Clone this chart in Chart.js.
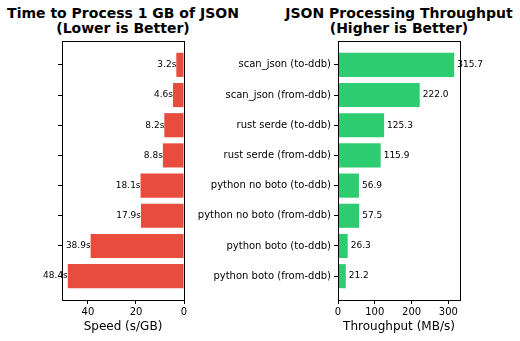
<!DOCTYPE html>
<html>
<head>
<meta charset="utf-8">
<script src="https://cdn.jsdelivr.net/npm/chart.js@4.4.1/dist/chart.umd.min.js"></script>
<style>
  html, body { margin: 0; padding: 0; background: #fff; overflow: hidden; }
  #wrap { position: relative; width: 520px; height: 341px; font-family: 'DejaVu Sans', sans-serif; }
  #wrap canvas { position: absolute; left: 0; top: 0; }
  .title { position: absolute; top: 6px; font-weight: bold; font-size: 14px; line-height: 15px; text-align: center; color: #000; white-space: nowrap; }
</style>
</head>
<body>
<div id="wrap">
  <div class="title" style="left:0;width:246px">Time to Process 1 GB of JSON<br>(Lower is Better)</div>
  <div class="title" style="left:279px;width:240px">JSON Processing Throughput<br>(Higher is Better)</div>
  <canvas id="timeChart" width="520" height="341"></canvas>
  <canvas id="rateChart" width="520" height="341"></canvas>
</div>
<script>
const methods = [
  'scan_json (to-ddb)', 'scan_json (from-ddb)',
  'rust serde (to-ddb)', 'rust serde (from-ddb)',
  'python no boto (to-ddb)', 'python no boto (from-ddb)',
  'python boto (to-ddb)', 'python boto (from-ddb)',
];
const seconds = [3.2, 4.6, 8.2, 8.8, 18.1, 17.9, 38.9, 48.4];
const throughput = [315.7, 222.0, 125.3, 115.9, 56.9, 57.5, 26.3, 21.2];
const timeTicks = [0, 20, 40];
const rateTicks = [0, 100, 200, 300];

Chart.defaults.font.family = "'DejaVu Sans', sans-serif";
Chart.defaults.color = '#000';

// box round the plot area (matplotlib spines)
const framePlugin = {
  id: 'frame',
  afterDraw(chart) {
    const { ctx, chartArea: a } = chart;
    ctx.save();
    ctx.strokeStyle = '#000';
    ctx.lineWidth = 1;
    ctx.strokeRect(Math.round(a.left) + 0.5, Math.round(a.top) + 0.5, Math.round(a.width), Math.round(a.height));
    ctx.restore();
  }
};

// text at the end of every bar
const valueLabels = {
  id: 'valueLabels',
  afterDatasetsDraw(chart, args, opts) {
    const { ctx } = chart;
    const bars = chart.getDatasetMeta(0).data;
    const values = chart.data.datasets[0].data;
    ctx.save();
    ctx.font = "9px 'DejaVu Sans'";
    ctx.fillStyle = '#000';
    ctx.textBaseline = 'middle';
    ctx.textAlign = opts.align;
    bars.forEach((bar, i) => {
      ctx.fillText(opts.format(values[i].x), bar.x + opts.offset, bar.y);
    });
    ctx.restore();
  }
};

const setTicks = (list) => (axis) => { axis.ticks = list.map(v => ({ value: v })); };
const indexTicks = methods.map((_, i) => i);

function yScale(width, showLabels) {
  return {
    type: 'linear',
    reverse: true,
    offset: false,
    min: -0.79,
    max: 7.79,
    afterBuildTicks: setTicks(indexTicks),
    afterFit: (axis) => { axis.width = width; },
    grid: { offset: false, drawOnChartArea: false, color: '#000', tickLength: 4 },
    border: { display: false },
    ticks: {
      display: showLabels,
      autoSkip: false,
      padding: 3,
      font: { size: 10 },
      callback: (v) => methods[v],
    },
  };
}

function xScale(max, reverse, ticks, label) {
  return {
    type: 'linear',
    reverse,
    min: 0,
    max,
    afterBuildTicks: setTicks(ticks),
    afterFit: (axis) => { axis.height = 41; },
    grid: { drawOnChartArea: false, color: '#000', tickLength: 4 },
    border: { display: false },
    ticks: { padding: 2, maxRotation: 0, font: { size: 10 } },
    title: { display: true, text: label, font: { size: 12 }, padding: { top: 0, bottom: 7 } },
  };
}

function makeChart(id, values, color, opts) {
  return new Chart(document.getElementById(id), {
    type: 'bar',
    data: {
      datasets: [{
        data: values.map((v, i) => ({ x: v, y: i })),
        backgroundColor: color,
        borderWidth: 0,
        categoryPercentage: 1,
        barPercentage: 0.8,
      }],
    },
    options: {
      indexAxis: 'y',
      responsive: false,
      animation: false,
      layout: { padding: opts.padding },
      plugins: {
        legend: { display: false },
        tooltip: { enabled: false },
        valueLabels: opts.labels,
      },
      scales: { x: opts.x, y: opts.y },
    },
    plugins: [valueLabels, framePlugin],
  });
}

makeChart('timeChart', seconds, '#e74c3c', {
  padding: { left: 0, right: 336, top: 41, bottom: 0 },
  x: xScale(50.82, true, timeTicks, 'Speed (s/GB)'),
  y: yScale(62, false),
  labels: { align: 'right', offset: 0, format: (v) => v.toFixed(1) + 's' },
});

makeChart('rateChart', throughput, '#2ecc71', {
  padding: { left: 0, right: 60, top: 41, bottom: 0 },
  x: xScale(331.5, false, rateTicks, 'Throughput (MB/s)'),
  y: yScale(338, true),
  labels: { align: 'left', offset: 3, format: (v) => v.toFixed(1) },
});
</script>
</body>
</html>
